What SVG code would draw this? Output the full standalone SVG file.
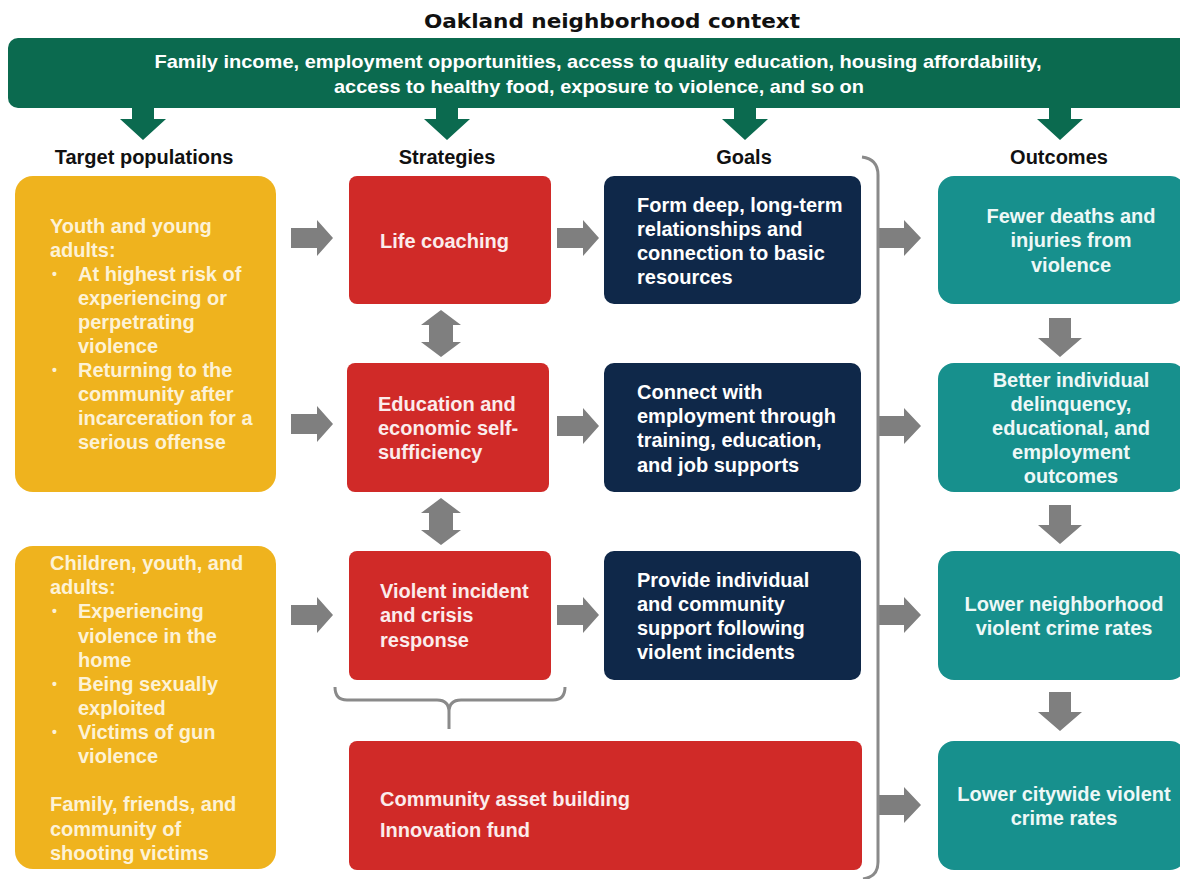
<svg xmlns="http://www.w3.org/2000/svg" width="1180" height="879" viewBox="0 0 1180 879">
<style>
text{font-family:"Liberation Sans",Arial,sans-serif;font-weight:bold}
.t20{font-size:20px}
.head{font-size:20px;fill:#111;text-anchor:middle}
.yl{fill:#efb31e}.yt{fill:#fdf2d6}
.rd{fill:#d02a28}.rt{fill:#fbecec}
.nv{fill:#0f2849}.nt{fill:#ffffff}
.tl{fill:#17908d}.tt{fill:#eef8f7;text-anchor:middle}
.ga{fill:#7f7f7f}
.gr{fill:#0b6a4f}
.br{fill:none;stroke:#8a8a8a;stroke-width:3}
.bul{font-size:14px}
</style>
<defs>
<path id="ra" d="M0,-10 L26,-10 L26,-18 L42,0 L26,18 L26,10 L0,10 Z"/>
<path id="ra2" d="M0,-10 L26,-10 L26,-18 L43,0 L26,18 L26,10 L0,10 Z"/>
<path id="da" d="M-11,0 L11,0 L11,20 L22,20 L0,39 L-22,20 L-11,20 Z"/>
<path id="gda" d="M-11,0 L11,0 L11,12 L23,12 L0,33 L-23,12 L-11,12 Z"/>
<path id="dba" d="M0,0 L20,15 L12,15 L12,32 L20,32 L0,47 L-20,32 L-12,32 L-12,15 L-20,15 Z"/>
</defs>

<text x="612" y="28" style="font-family:'DejaVu Sans',sans-serif;font-size:19px;fill:#111;text-anchor:middle" textLength="376" lengthAdjust="spacingAndGlyphs">Oakland neighborhood context</text>

<g id="context">
<rect class="gr" x="8" y="38" width="1185" height="70" rx="10"/>
<text x="598" y="68" style="font-size:18.5px;fill:#fff;text-anchor:middle" textLength="887" lengthAdjust="spacingAndGlyphs">Family income, employment opportunities, access to quality education, housing affordability,</text>
<text x="599" y="93" style="font-size:18.5px;fill:#fff;text-anchor:middle" textLength="530" lengthAdjust="spacingAndGlyphs">access to healthy food, exposure to violence, and so on</text>
</g>

<g id="headings">
<text class="head" x="144" y="164">Target populations</text>
<text class="head" x="447" y="164">Strategies</text>
<text class="head" x="744" y="164">Goals</text>
<text class="head" x="1059" y="164">Outcomes</text>
</g>

<g id="connectors">
<use href="#gda" class="gr" x="143" y="107"/>
<use href="#gda" class="gr" x="447" y="107"/>
<use href="#gda" class="gr" x="745" y="107"/>
<use href="#gda" class="gr" x="1060" y="107"/>

<use href="#ra" class="ga" x="291" y="238"/>
<use href="#ra" class="ga" x="291" y="424"/>
<use href="#ra" class="ga" x="291" y="615"/>

<use href="#ra" class="ga" x="557" y="238"/>
<use href="#ra" class="ga" x="557" y="426"/>
<use href="#ra" class="ga" x="557" y="615"/>

<use href="#ra2" class="ga" x="878" y="238"/>
<use href="#ra2" class="ga" x="878" y="426"/>
<use href="#ra2" class="ga" x="878" y="615"/>
<use href="#ra2" class="ga" x="878" y="805"/>

<use href="#da" class="ga" x="1060" y="318"/>
<use href="#da" class="ga" x="1060" y="505"/>
<use href="#da" class="ga" x="1060" y="692"/>

<use href="#dba" class="ga" x="441" y="310"/>
<use href="#dba" class="ga" x="441" y="498"/>

<path class="br" d="M862,157 Q878,159 878,175 L878,862 Q878,877 863,879"/>
<path class="br" d="M335,687 Q335,700 347,700 L437,700 Q449,700 449,712 L449,729 M449,712 Q449,700 461,700 L553,700 Q565,700 565,687"/>
</g>

<g id="target1">
<rect class="yl" x="15" y="176" width="261" height="316" rx="18"/>
<g class="yt t20">
<text x="50" y="233">Youth and young</text>
<text x="50" y="257">adults:</text>
<text class="bul" x="52" y="279">•</text>
<text x="78" y="281">At highest risk of</text>
<text x="78" y="305">experiencing or</text>
<text x="78" y="329">perpetrating</text>
<text x="78" y="353">violence</text>
<text class="bul" x="52" y="375">•</text>
<text x="78" y="377">Returning to the</text>
<text x="78" y="401">community after</text>
<text x="78" y="425">incarceration for a</text>
<text x="78" y="449">serious offense</text>
</g>
</g>

<g id="target2">
<rect class="yl" x="15" y="546" width="261" height="323" rx="18"/>
<g class="yt t20">
<text x="50" y="570">Children, youth, and</text>
<text x="50" y="594">adults:</text>
<text class="bul" x="52" y="616">•</text>
<text x="78" y="618">Experiencing</text>
<text x="78" y="643">violence in the</text>
<text x="78" y="667">home</text>
<text class="bul" x="52" y="689">•</text>
<text x="78" y="691">Being sexually</text>
<text x="78" y="715">exploited</text>
<text class="bul" x="52" y="737">•</text>
<text x="78" y="739">Victims of gun</text>
<text x="78" y="763">violence</text>
<text x="50" y="811">Family, friends, and</text>
<text x="50" y="836">community of</text>
<text x="50" y="860">shooting victims</text>
</g>
</g>

<g id="strategy1">
<rect class="rd" x="349" y="176" width="202" height="128" rx="8"/>
<text class="rt t20" x="380" y="248">Life coaching</text>
</g>
<g id="strategy2">
<rect class="rd" x="347" y="363" width="202" height="129" rx="8"/>
<g class="rt t20">
<text x="378" y="411">Education and</text>
<text x="378" y="435">economic self-</text>
<text x="378" y="459">sufficiency</text>
</g>
</g>
<g id="strategy3">
<rect class="rd" x="349" y="551" width="202" height="129" rx="8"/>
<g class="rt t20">
<text x="380" y="598">Violent incident</text>
<text x="380" y="622">and crisis</text>
<text x="380" y="647">response</text>
</g>
</g>
<g id="strategy4">
<rect class="rd" x="349" y="741" width="513" height="129" rx="8"/>
<g class="rt t20">
<text x="380" y="806">Community asset building</text>
<text x="380" y="837">Innovation fund</text>
</g>
</g>

<g id="goal1">
<rect class="nv" x="604" y="176" width="257" height="128" rx="10"/>
<g class="nt t20">
<text x="637" y="212">Form deep, long-term</text>
<text x="637" y="236">relationships and</text>
<text x="637" y="260">connection to basic</text>
<text x="637" y="284">resources</text>
</g>
</g>
<g id="goal2">
<rect class="nv" x="604" y="363" width="257" height="129" rx="10"/>
<g class="nt t20">
<text x="637" y="399">Connect with</text>
<text x="637" y="423">employment through</text>
<text x="637" y="447">training, education,</text>
<text x="637" y="472">and job supports</text>
</g>
</g>
<g id="goal3">
<rect class="nv" x="604" y="551" width="257" height="129" rx="10"/>
<g class="nt t20">
<text x="637" y="587">Provide individual</text>
<text x="637" y="611">and community</text>
<text x="637" y="635">support following</text>
<text x="637" y="659">violent incidents</text>
</g>
</g>

<g id="outcome1">
<rect class="tl" x="938" y="176" width="248" height="128" rx="16"/>
<g class="tt t20">
<text x="1071" y="223">Fewer deaths and</text>
<text x="1071" y="247">injuries from</text>
<text x="1071" y="272">violence</text>
</g>
</g>
<g id="outcome2">
<rect class="tl" x="938" y="363" width="248" height="129" rx="16"/>
<g class="tt t20">
<text x="1071" y="387">Better individual</text>
<text x="1071" y="411">delinquency,</text>
<text x="1071" y="435">educational, and</text>
<text x="1071" y="459">employment</text>
<text x="1071" y="483">outcomes</text>
</g>
</g>
<g id="outcome3">
<rect class="tl" x="938" y="551" width="248" height="129" rx="16"/>
<g class="tt t20">
<text x="1064" y="611">Lower neighborhood</text>
<text x="1064" y="635">violent crime rates</text>
</g>
</g>
<g id="outcome4">
<rect class="tl" x="938" y="741" width="248" height="129" rx="16"/>
<g class="tt t20">
<text x="1064" y="801">Lower citywide violent</text>
<text x="1064" y="825">crime rates</text>
</g>
</g>
</svg>
